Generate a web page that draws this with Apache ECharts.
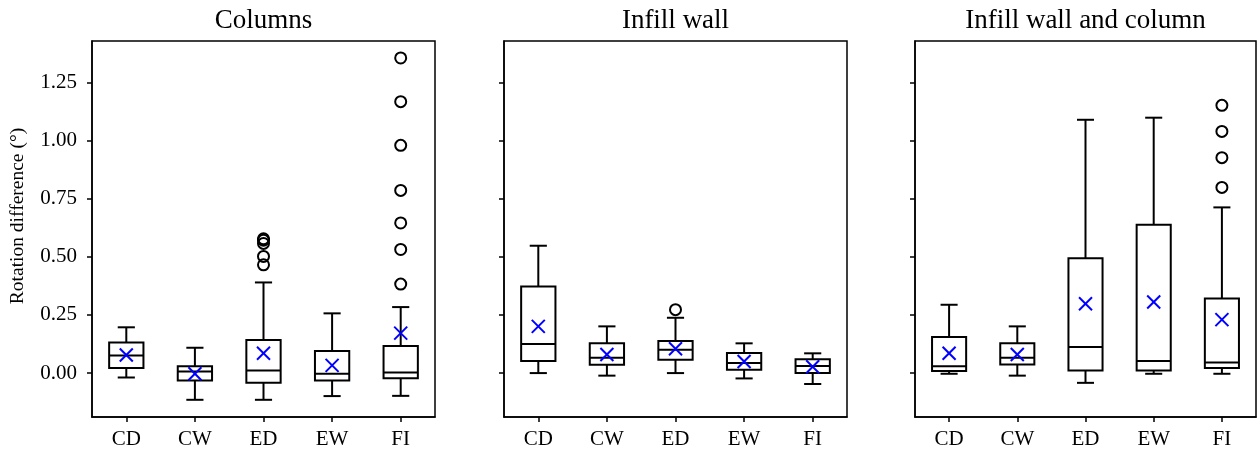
<!DOCTYPE html>
<html>
<head>
<meta charset="utf-8">
<script src="https://cdn.jsdelivr.net/npm/echarts@6/dist/echarts.min.js"></script>
<style>
html, body { margin: 0; padding: 0; background: #fff; }
#chart { width: 1257px; height: 455px; }
</style>
</head>
<body>
<div id="chart"></div>
<script>
const categories = ['CD', 'CW', 'ED', 'EW', 'FI'];
const panelTitles = ['Columns', 'Infill wall', 'Infill wall and column'];
const yTicks = [0, 0.25, 0.5, 0.75, 1.0, 1.25];

// each row: [lower whisker, Q1, median, Q3, upper whisker]
const columnsBox = [
  [-0.019, 0.022, 0.076, 0.132, 0.197],
  [-0.115, -0.032, 0.007, 0.029, 0.109],
  [-0.115, -0.042, 0.011, 0.142, 0.390],
  [-0.099, -0.032, -0.003, 0.095, 0.257],
  [-0.098, -0.022, 0.003, 0.116, 0.284]
];
const columnsMean = [0.078, -0.003, 0.085, 0.033, 0.172];
const columnsOutliers = [
  [2, 0.466], [2, 0.502], [2, 0.558], [2, 0.572], [2, 0.578],
  [4, 0.383], [4, 0.532], [4, 0.646], [4, 0.786], [4, 0.980], [4, 1.168], [4, 1.356]
];

const wallBox = [
  [0.000, 0.052, 0.125, 0.373, 0.548],
  [-0.011, 0.036, 0.066, 0.128, 0.201],
  [0.000, 0.057, 0.100, 0.138, 0.238],
  [-0.023, 0.014, 0.043, 0.086, 0.128],
  [-0.047, 0.000, 0.030, 0.060, 0.085]
];
const wallMean = [0.201, 0.080, 0.105, 0.050, 0.027];
const wallOutliers = [[2, 0.273]];

const bothBox = [
  [-0.003, 0.009, 0.029, 0.155, 0.294],
  [-0.011, 0.037, 0.066, 0.128, 0.201],
  [-0.042, 0.011, 0.112, 0.494, 1.090],
  [-0.003, 0.011, 0.052, 0.638, 1.099],
  [-0.003, 0.022, 0.046, 0.321, 0.713]
];
const bothMean = [0.085, 0.080, 0.298, 0.306, 0.230];
const bothOutliers = [[4, 0.799], [4, 0.927], [4, 1.040], [4, 1.152]];

const panelBoxes = [columnsBox, wallBox, bothBox];
const panelMeans = [columnsMean, wallMean, bothMean];
const panelOutliers = [columnsOutliers, wallOutliers, bothOutliers];

const font = 'Liberation Serif';
const grids = [
  { left: 92, width: 343 },
  { left: 504, width: 343 },
  { left: 915, width: 341 }
];

// box, median, whiskers, caps and mean cross, drawn like matplotlib
function renderBox(params, api) {
  const cat = api.value(0);
  const band = api.size([1, 0])[0];
  const half = band * 0.25;
  const cap = band * 0.125;
  const x = api.coord([cat, 0])[0];
  const y = v => api.coord([cat, v])[1];
  const lo = y(api.value(1)), q1 = y(api.value(2)), med = y(api.value(3));
  const q3 = y(api.value(4)), hi = y(api.value(5)), mean = y(api.value(6));
  const st = { stroke: '#000', lineWidth: 2, fill: null };
  const line = (x1, y1, x2, y2, style) => ({ type: 'line', shape: { x1, y1, x2, y2 }, style: style || st });
  const m = 6.5;
  const blue = { stroke: '#0000ff', lineWidth: 2 };
  return {
    type: 'group',
    children: [
      line(x, q1, x, lo),
      line(x, q3, x, hi),
      line(x - cap, lo, x + cap, lo),
      line(x - cap, hi, x + cap, hi),
      { type: 'rect', shape: { x: x - half, y: q3, width: 2 * half, height: q1 - q3 }, style: st },
      line(x - half, med, x + half, med),
      line(x - m, mean - m, x + m, mean + m, blue),
      line(x - m, mean + m, x + m, mean - m, blue)
    ]
  };
}

const option = {
  animation: false,
  title: panelTitles.map((t, i) => ({
    text: t,
    left: grids[i].left + grids[i].width / 2,
    textAlign: 'center',
    top: 7,
    padding: 0,
    textStyle: { fontFamily: font, fontSize: 27, fontWeight: 'normal', color: '#000' }
  })),
  graphic: [{
    type: 'text',
    x: 17.5,
    y: 216,
    rotation: Math.PI / 2,
    style: {
      text: 'Rotation difference (°)',
      fontFamily: font, fontSize: 19.5, fill: '#000',
      align: 'center', verticalAlign: 'middle'
    }
  }],
  grid: grids.map(g => ({
    left: g.left, width: g.width, top: 41, height: 376,
    show: true, borderColor: '#000', borderWidth: 1.5, backgroundColor: 'transparent'
  })),
  xAxis: grids.map((g, i) => ({
    type: 'category',
    gridIndex: i,
    data: categories,
    boundaryGap: true,
    axisLine: { show: true, onZero: false, lineStyle: { color: '#000', width: 1.5 } },
    axisTick: { show: true, alignWithLabel: true, inside: false, length: 5, lineStyle: { color: '#000', width: 1.5 } },
    axisLabel: { fontFamily: font, fontSize: 21, color: '#000', margin: 12 },
    splitLine: { show: false }
  })),
  yAxis: grids.map((g, i) => ({
    type: 'value',
    gridIndex: i,
    min: -0.189,
    max: 1.429,
    axisLine: { show: true, lineStyle: { color: '#000', width: 1.5 } },
    axisTick: { show: true, inside: false, length: 5, customValues: yTicks, lineStyle: { color: '#000', width: 1.5 } },
    axisLabel: {
      show: i === 0,
      customValues: yTicks,
      fontFamily: font, fontSize: 21, color: '#000', margin: 15,
      formatter: v => v.toFixed(2)
    },
    splitLine: { show: false }
  })),
  series: []
};

for (let i = 0; i < 3; i++) {
  option.series.push({
    type: 'custom',
    xAxisIndex: i,
    yAxisIndex: i,
    renderItem: renderBox,
    encode: { x: 0, y: [1, 2, 3, 4, 5, 6] },
    data: panelBoxes[i].map((b, k) => [k].concat(b, [panelMeans[i][k]])),
    z: 3
  });
  option.series.push({
    type: 'scatter',
    xAxisIndex: i,
    yAxisIndex: i,
    symbol: 'circle',
    symbolSize: 11,
    itemStyle: { color: 'rgba(0,0,0,0)', borderColor: '#000', borderWidth: 2, opacity: 1 },
    data: panelOutliers[i],
    z: 4
  });
}

const chart = echarts.init(document.getElementById('chart'));
chart.setOption(option);
</script>
</body>
</html>
